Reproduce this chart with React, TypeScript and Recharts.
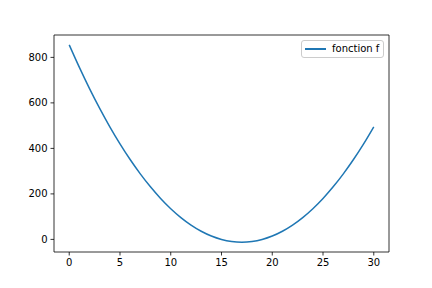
import React from "react";
import { LineChart, Line, XAxis, YAxis, ReferenceLine } from "recharts";

const xValues = [0,1,2,3,4,5,6,7,8,9,10,11,12,13,14,15,16,17,18,19,20,21,22,23,24,25,26,27,28,29,30];
const fValues = [855,756,663,576,495,420,351,288,231,180,135,96,63,36,15,0,-9,-12,-9,0,15,36,63,96,135,180,231,288,351,420,495];
const xTicks = [0,5,10,15,20,25,30];
const yTicks = [0,200,400,600,800];
const seriesName = "fonction f";
const xDomain = [-1.5, 31.5];
const yDomain = [-55.35, 898.35];

const data = xValues.map((x, i) => ({ x, f: fValues[i] }));

const FONT = "'DejaVu Sans', sans-serif";

const LegendBox = () => (
  <div
    style={{
      position: "absolute",
      left: 301,
      top: 40,
      width: 83,
      height: 18,
      border: "1px solid #cccccc",
      borderRadius: 3,
      background: "rgba(255,255,255,0.8)",
      boxSizing: "border-box",
      fontFamily: FONT,
      fontSize: 10,
      color: "#000",
    }}
  >
    <div style={{ position: "absolute", left: 3, top: 7, width: 21, height: 1.5, background: "#1f77b4" }} />
    <div style={{ position: "absolute", left: 30, top: 2, lineHeight: "12px", whiteSpace: "nowrap" }}>{seriesName}</div>
  </div>
);

export default function App() {
  const tickStyle = { fontFamily: FONT, fontSize: 10, fill: "#000" };
  const frame = { stroke: "#000", strokeWidth: 0.8 };
  return (
    <div style={{ position: "absolute", left: 0, top: 0, width: 432, height: 288, background: "#fff" }}>
      <LineChart width={432} height={288} data={data} margin={{ top: 35, right: 43, bottom: 0, left: 0 }}>
        <XAxis
          dataKey="x"
          type="number"
          domain={xDomain}
          ticks={xTicks}
          interval={0}
          height={36}
          tickSize={3.5}
          tickMargin={3}
          tick={tickStyle}
          axisLine={frame}
          tickLine={frame}
          allowDataOverflow
        />
        <YAxis
          type="number"
          domain={yDomain}
          ticks={yTicks}
          interval={0}
          width={54}
          tickSize={3.5}
          tickMargin={3}
          tick={tickStyle}
          axisLine={frame}
          tickLine={frame}
          allowDataOverflow
        />
        <ReferenceLine x={xDomain[1]} stroke="#000" strokeWidth={0.8} ifOverflow="visible" />
        <ReferenceLine y={yDomain[1]} stroke="#000" strokeWidth={0.8} ifOverflow="visible" />
        <Line
          type="monotone"
          dataKey="f"
          name={seriesName}
          stroke="#1f77b4"
          strokeWidth={1.5}
          dot={false}
          isAnimationActive={false}
        />
      </LineChart>
      <LegendBox />
    </div>
  );
}
